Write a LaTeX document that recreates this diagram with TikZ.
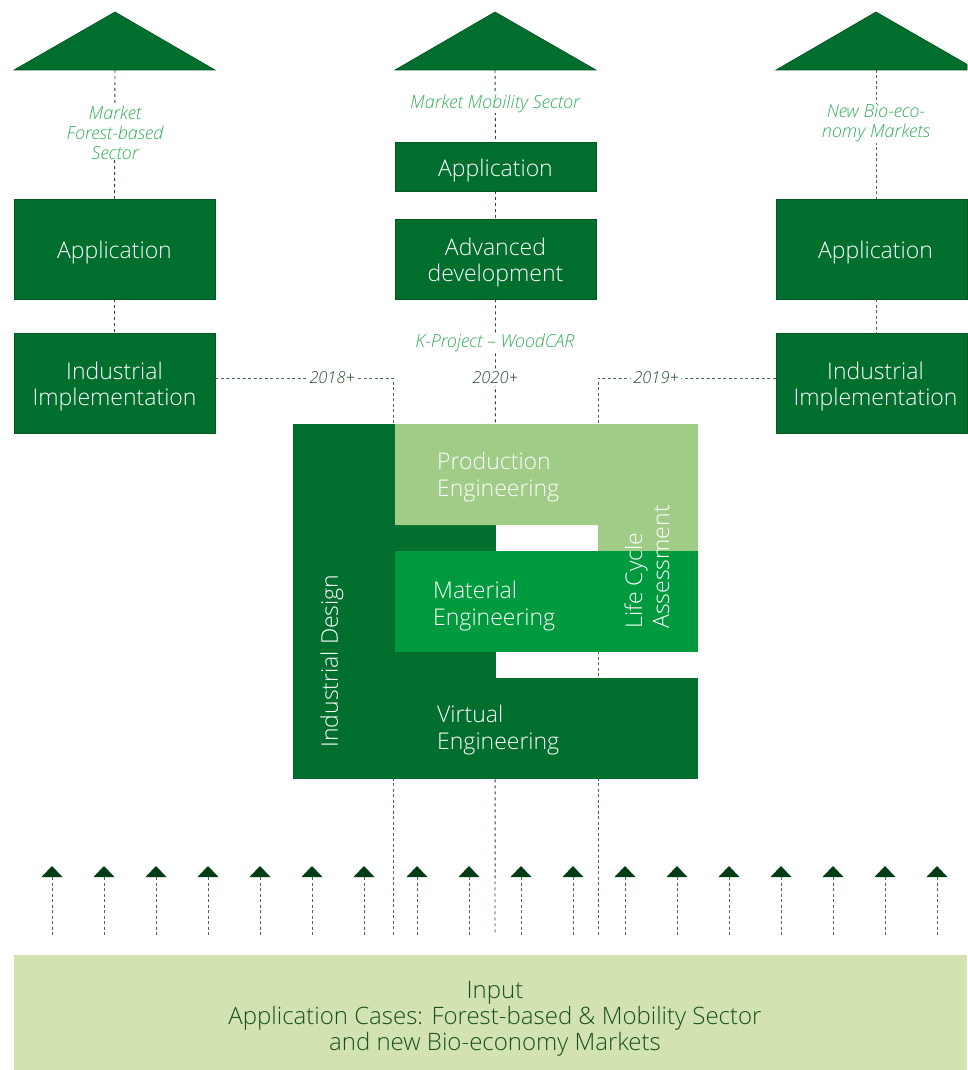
\documentclass[tikz,border=0pt]{standalone}
\usepackage{fontspec}
\setmainfont{Open Sans}[UprightFont=* Light, ItalicFont=* Light Italic]
\definecolor{dg}{RGB}{0,110,45}
\definecolor{mg}{RGB}{0,154,62}
\definecolor{lg}{RGB}{160,204,135}
\definecolor{ig}{RGB}{210,226,176}
\definecolor{lbl}{RGB}{50,175,90}
\definecolor{dashc}{RGB}{70,110,80}
\definecolor{dashd}{RGB}{40,70,50}
\definecolor{arr}{RGB}{0,60,20}
\definecolor{yr}{RGB}{40,80,50}
\definecolor{itxt}{RGB}{25,80,30}
\begin{document}
\begin{tikzpicture}[x=1pt,y=-1pt,
  box/.style={fill=dg,draw=dg!80!black,line width=0.6pt,inner sep=0pt},
  boxtxt/.style={text=white,inner sep=0pt,align=center,yshift=-4pt,
    font=\fontsize{23}{26}\selectfont},
  mlabel/.style={text=lbl,align=center,font=\fontsize{18}{20}\selectfont\itshape,inner sep=1pt},
  year/.style={text=yr,fill=white,font=\fontsize{16.5}{20}\selectfont\itshape,inner sep=2pt},
  dl/.style={draw=dashc,line width=0.9pt,dash pattern=on 3pt off 2.5pt},
  dld/.style={draw=dashd,line width=0.9pt,dash pattern=on 3pt off 3pt},
  btxt/.style={text=white,align=left,inner sep=0pt,font=\fontsize{23}{27}\selectfont},
  roof/.style={fill=dg,draw=dg!70!black,line width=0.6pt},
  uparrow/.style={fill=arr}]
\useasboundingbox (0,0) rectangle (967,1070);

% roofs
\fill[roof] (14,70) -- (115,12) -- (215,70) -- cycle;
\fill[roof] (395,70) -- (495,12) -- (596,70) -- cycle;
\fill[roof] (776,70) -- (876,12) -- (967,64.3) -- (967,70) -- cycle;
\coordinate (lroof) at (115,70);
\coordinate (mroof) at (495,70);
\coordinate (rroof) at (876,70);

% left column
\node[box,minimum width=201pt,minimum height=100pt] (lapp) at (114.5,249) {};
\node[boxtxt] (lappt) at (lapp) {Application};
\node[box,minimum width=201pt,minimum height=100pt] (limp) at (114.5,383) {};
\node[boxtxt] (limpt) at (limp) {Industrial\\Implementation};
% middle column
\node[box,minimum width=201pt,minimum height=49pt] (mapp) at (495.5,166.5) {};
\node[boxtxt] (mappt) at (mapp) {Application};
\node[box,minimum width=201pt,minimum height=80pt] (madv) at (495.5,259) {};
\node[boxtxt] (madvt) at (madv) {Advanced\\development};
% right column
\node[box,minimum width=191pt,minimum height=100pt] (rapp) at (871.5,249) {};
\node[boxtxt] (rappt) at (875.5,249) {Application};
\node[box,minimum width=191pt,minimum height=100pt] (rimp) at (871.5,383) {};
\node[boxtxt] (rimpt) at (875.5,383) {Industrial\\Implementation};

% vertical dashed connectors top
\draw[dld] (lroof) -- (lapp.north);
\draw[dld] (lapp.south) -- (limp.north);
\draw[dld] (mroof) -- (mapp.north);
\draw[dld] (mapp.south) -- (madv.north);
\draw[dl] (rroof) -- (rroof |- rapp.north);
\draw[dl] (rroof |- rapp.south) -- (rroof |- rimp.north);

% market labels
\node[mlabel,fill=white] (lmk) at (115,132.5) {Market\\Forest-based\\Sector};
\node[mlabel,fill=white] (mmk) at (495,103.5) {Market Mobility Sector};
\node[mlabel,fill=white] (rmk) at (876,123.5) {New Bio-eco-\\nomy Markets};

% coordinates for long dashed lines
\coordinate (lc) at (393,378);
\coordinate (rc) at (598,378);
\coordinate (lbot) at (393,935);
\coordinate (mbot) at (495,935);
\coordinate (rbot) at (598,935);

\draw[dl] (limp.east |- lc) -- (lc) -- (lbot);
\draw[dl] (rimp.west |- rc) -- (rc) -- (rbot);
\draw[dld] (madv.south) -- (mbot);

\node[year] (y18) at (332,378) {2018+};
\node[year] (y20) at (495,378) {2020+};
\node[year] (y19) at (656,378) {2019+};
\node[mlabel,fill=white] (kp) at (495,342.5) {K-Project – WoodCAR};

% central block
\fill[dg] (293,424) rectangle (395,779);
\fill[dg] (395,525) rectangle (496,551);
\fill[dg] (395,652) rectangle (496,678);
\fill[dg] (395,678) rectangle (698,779);
\fill[lg] (395,424) -- (698,424) -- (698,551) -- (598,551) -- (598,525) -- (395,525) -- cycle;
\fill[mg] (395,551) rectangle (698,652);

\node[btxt,anchor=west] (prod) at (437,477) {Production\\Engineering};
\node[btxt,anchor=west] (mat) at (433,606) {Material\\Engineering};
\node[btxt,anchor=west] (virt) at (437,730) {Virtual\\Engineering};
\node[btxt,rotate=90,anchor=center] (lca) at (647,567) {Life Cycle\\Assessment};
\node[btxt,rotate=90,anchor=center,align=center] (ind) at (332,661) {Industrial Design};

% arrows
\foreach \x in {52,104,156,208,260,312,364,417,469,521,573,625,677,729,781,833,885,937}{
  \fill[uparrow] (\x-10.5,877) -- (\x,866) -- (\x+10.5,877) -- cycle;
  \draw[dl] (\x,877) -- (\x,935);
}

% input
\node[fill=ig,minimum width=953pt,minimum height=115pt,inner sep=0pt] (inp) at (490.5,1012.5) {};
\node[text=itxt,align=center,font=\fontsize{24}{26}\selectfont,inner sep=0pt] (inptxt) at (495,1019) {Input\\Application Cases: Forest-based \& Mobility Sector\\and new Bio-economy Markets};
\end{tikzpicture}
\end{document}
